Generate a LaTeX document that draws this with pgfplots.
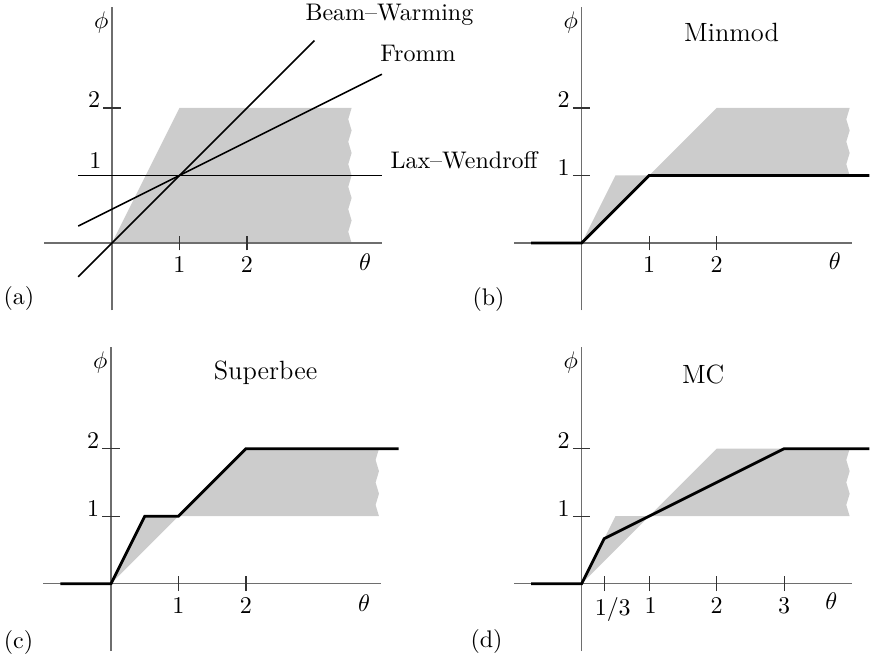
\documentclass[border=0pt]{standalone}
\usepackage{pgfplots}
\pgfplotsset{compat=1.18}
\definecolor{shade}{HTML}{CCCCCC}
\definecolor{axgray}{HTML}{6E6E6E}
\pgfplotsset{
  lim/.style={hide axis, clip=false, xmin=-1, xmax=4, ymin=-1, ymax=3.5,
    x=28.125pt, y=28.125pt, anchor=south west},
  axl/.style={axgray, line width=0.5pt, mark=none},
  tk/.style={black!80, line width=0.5pt, mark=none},
  lim line/.style={black, line width=1.15pt, mark=none},
  thin line/.style={black, line width=0.65pt, mark=none},
  region/.style={fill=shade, draw=none, mark=none},
}
\newcommand{\lab}{\fontsize{10}{12}\selectfont}
\newcommand{\ttl}{\fontsize{11}{13}\selectfont}
\begin{document}
\begin{tikzpicture}
\useasboundingbox (0pt,0pt) rectangle (362.5pt,-275pt);

% ---------------- (a) ----------------
\begin{axis}[lim, at={(18.54pt,-129.375pt)}]
\addplot[region] coordinates {(0,0) (1,2) (3.55,2) (3.50,1.833) (3.55,1.667) (3.50,1.5) (3.55,1.333) (3.50,1.167) (3.55,1) (3.50,0.833) (3.55,0.667) (3.50,0.5) (3.55,0.333) (3.50,0.167) (3.55,0) (0,0)};
\addplot[axl] coordinates {(-1,0) (4,0)};
\addplot[axl] coordinates {(0,-1) (0,3.5)};
\addplot[tk] coordinates {(1,-0.11) (1,0.11)};
\addplot[tk] coordinates {(2,-0.11) (2,0.11)};
\addplot[tk] coordinates {(-0.13,2) (0.13,2)};
\addplot[thin line] coordinates {(-0.5,1) (4,1)};
\addplot[thin line] coordinates {(-0.5,-0.5) (3,3)};
\addplot[thin line] coordinates {(-0.5,0.25) (4,2.5)};
\node[anchor=base west, inner sep=0pt, font=\lab] at (2.86,3.29) {Beam--Warming};
\node[anchor=base west, inner sep=0pt, font=\lab] at (3.97,2.69) {Fromm};
\node[anchor=base west, inner sep=0pt, font=\lab] at (4.12,1.107) {Lax--Wendroff};
\node[anchor=base east, inner sep=0pt, font=\lab] at (-0.17,2) {$2$};
\node[anchor=base east, inner sep=0pt, font=\lab] at (-0.15,1.1) {$1$};
\node[anchor=north, inner sep=0pt, font=\lab] at (1,-0.2) {$1$};
\node[anchor=north, inner sep=0pt, font=\lab] at (2,-0.2) {$2$};
\node[font=\lab] at (3.75,-0.28) {$\theta$};
\node[font=\lab] at (-0.16,3.27) {$\phi$};
\node[font=\lab] at (-1.38,-0.82) {(a)};
\end{axis}

% ---------------- (b) ----------------
\begin{axis}[lim, at={(214.25pt,-129.375pt)}]
\addplot[region] coordinates {(0,0) (0.5,1) (1,1) (2,2) (3.97,2) (3.92,1.833) (3.97,1.667) (3.92,1.5) (3.97,1.333) (3.92,1.167) (3.97,1) (1,1) (0,0)};
\addplot[axl] coordinates {(-1,0) (4,0)};
\addplot[axl] coordinates {(0,-1) (0,3.5)};
\addplot[tk] coordinates {(1,-0.11) (1,0.11)};
\addplot[tk] coordinates {(2,-0.11) (2,0.11)};
\addplot[tk] coordinates {(-0.13,1) (0.13,1)};
\addplot[tk] coordinates {(-0.13,2) (0.13,2)};
\addplot[lim line] coordinates {(-0.75,0) (0,0) (1,1) (4.26,1)};
\node[font=\ttl] at (2.22,3.12) {Minmod};
\node[anchor=base east, inner sep=0pt, font=\lab] at (-0.17,2) {$2$};
\node[anchor=base east, inner sep=0pt, font=\lab] at (-0.17,1) {$1$};
\node[anchor=north, inner sep=0pt, font=\lab] at (1,-0.2) {$1$};
\node[anchor=north, inner sep=0pt, font=\lab] at (2,-0.2) {$2$};
\node[font=\lab] at (3.75,-0.27) {$\theta$};
\node[font=\lab] at (-0.16,3.27) {$\phi$};
\node[font=\lab] at (-1.38,-0.84) {(b)};
\end{axis}

% ---------------- (c) ----------------
\begin{axis}[lim, at={(18.125pt,-271.33pt)}]
\addplot[region] coordinates {(0,0) (0.5,1) (1,1) (2,2) (3.97,2) (3.92,1.833) (3.97,1.667) (3.92,1.5) (3.97,1.333) (3.92,1.167) (3.97,1) (1,1) (0,0)};
\addplot[axl] coordinates {(-1,0) (4,0)};
\addplot[axl] coordinates {(0,-1) (0,3.5)};
\addplot[tk] coordinates {(1,-0.11) (1,0.11)};
\addplot[tk] coordinates {(2,-0.11) (2,0.11)};
\addplot[tk] coordinates {(-0.13,1) (0.13,1)};
\addplot[tk] coordinates {(-0.13,2) (0.13,2)};
\addplot[lim line] coordinates {(-0.75,0) (0,0) (0.5,1) (1,1) (2,2) (4.26,2)};
\node[font=\ttl] at (2.29,3.12) {Superbee};
\node[anchor=base east, inner sep=0pt, font=\lab] at (-0.17,2) {$2$};
\node[anchor=base east, inner sep=0pt, font=\lab] at (-0.17,1) {$1$};
\node[anchor=north, inner sep=0pt, font=\lab] at (1,-0.2) {$1$};
\node[anchor=north, inner sep=0pt, font=\lab] at (2,-0.2) {$2$};
\node[font=\lab] at (3.75,-0.29) {$\theta$};
\node[font=\lab] at (-0.16,3.27) {$\phi$};
\node[font=\lab] at (-1.37,-0.87) {(c)};
\end{axis}

% ---------------- (d) ----------------
\begin{axis}[lim, at={(214.25pt,-271.33pt)}]
\addplot[region] coordinates {(0,0) (0.5,1) (1,1) (2,2) (3.97,2) (3.92,1.833) (3.97,1.667) (3.92,1.5) (3.97,1.333) (3.92,1.167) (3.97,1) (1,1) (0,0)};
\addplot[axl] coordinates {(-1,0) (4,0)};
\addplot[axl] coordinates {(0,-1) (0,3.5)};
\addplot[tk] coordinates {(0.3333,-0.11) (0.3333,0.11)};
\addplot[tk] coordinates {(1,-0.11) (1,0.11)};
\addplot[tk] coordinates {(2,-0.11) (2,0.11)};
\addplot[tk] coordinates {(3,-0.11) (3,0.11)};
\addplot[tk] coordinates {(-0.13,1) (0.13,1)};
\addplot[tk] coordinates {(-0.13,2) (0.13,2)};
\addplot[lim line] coordinates {(-0.75,0) (0,0) (0.3333,0.6667) (3,2) (4.26,2)};
\node[font=\ttl] at (1.80,3.10) {MC};
\node[anchor=base east, inner sep=0pt, font=\lab] at (-0.17,2) {$2$};
\node[anchor=base east, inner sep=0pt, font=\lab] at (-0.17,1) {$1$};
\node[anchor=north, inner sep=0pt, font=\lab] at (0.46,-0.2) {$1/3$};
\node[anchor=north, inner sep=0pt, font=\lab] at (1.02,-0.2) {$1$};
\node[anchor=north, inner sep=0pt, font=\lab] at (2,-0.2) {$2$};
\node[anchor=north, inner sep=0pt, font=\lab] at (3,-0.2) {$3$};
\node[font=\lab] at (3.70,-0.26) {$\theta$};
\node[font=\lab] at (-0.16,3.27) {$\phi$};
\node[font=\lab] at (-1.41,-0.85) {(d)};
\end{axis}
\end{tikzpicture}
\end{document}
